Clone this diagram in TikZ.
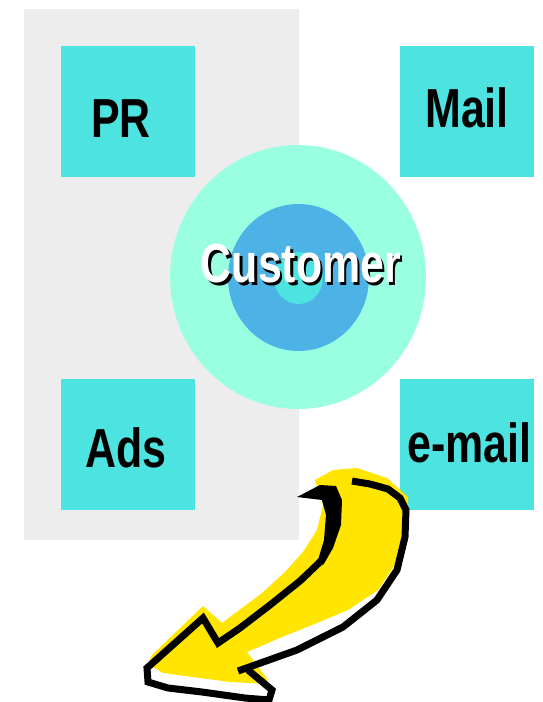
\documentclass[tikz,border=0pt]{standalone}
\usepackage{fontspec}
\setmainfont{Liberation Sans}
\usepackage{tikz}

\definecolor{panelgray}{HTML}{EDEDED}
\definecolor{boxcyan}{HTML}{4DE3E0}
\definecolor{ringaqua}{HTML}{99FFE0}
\definecolor{ringblue}{HTML}{4DB3E6}
\definecolor{arrowyellow}{HTML}{FFE500}

\newcommand{\squeeze}[1]{\scalebox{0.78}[1]{#1}}
% white word over a black drop shadow
\newcommand{\shadowed}[1]{\rlap{\hspace{3pt}\raisebox{-3pt}{\color{black}#1}}\color{white}#1}

\begin{document}
\begin{tikzpicture}[x=1pt,y=-1pt,
  box/.style={fill=boxcyan, minimum width=134pt, minimum height=131pt, inner sep=0pt},
  lbl/.style={anchor=base, inner sep=0pt, font=\fontsize{55}{60}\selectfont\bfseries},
  edge/.style={line width=7pt, line join=miter, line cap=butt}]
\useasboundingbox (0,0) rectangle (542,702);

% grey panel behind the left column
\fill [panelgray] (24,9) rectangle (299,540);

% the four channels
\node [box] (pr) at (128,111.5) {};
\node [box] (mail) at (467,111.5) {};
\node [box] (ads) at (128,444) {};
\node [box] (email) at (467,444) {};
\node [lbl] (prtxt) at (121,137) {\squeeze{PR}};
\node [lbl] (mailtxt) at (467,127) {\squeeze{Mail}};
\node [lbl] (adstxt) at (126,467) {\squeeze{Ads}};
\node [lbl] (emailtxt) at (469.5,462) {\squeeze{e-mail}};

% rings round the customer
\fill [ringaqua] (298,277) ellipse [x radius=128, y radius=132];
\fill [ringblue] (298.5,277.5) ellipse [x radius=70.5, y radius=73.5];
\fill [boxcyan] (298.5,278) ellipse [x radius=24.5, y radius=26];
\node [lbl] (customer) at (301,282) {\squeeze{\shadowed{Customer}}};

% yellow curved arrow
\fill [arrowyellow] (315,480) -- (333,470) -- (357,468) -- (387,478) -- (408,497)
  -- (408,512) -- (405,535) -- (396,563) -- (378,590) -- (348,610) -- (317,623)
  -- (282,637) -- (247,652) -- (268,680) -- (266,684) -- (230,682) -- (163,673)
  -- (148,664) -- (152,655) -- (203,606) -- (222,623) -- (262,593) -- (285,572)
  -- (303,552) -- (317,530) -- (323,505) -- (318,490) -- cycle;
% black outline
\fill (297,497) -- (320,485) -- (336,486) -- (342,500) -- (341,525) -- (333,548)
  -- (323,565) -- (318,560) -- (324,540) -- (326,515) -- (322,500) -- cycle;
\draw [edge] (330,545) -- (322,560) -- (300,581) -- (270,605) -- (240,628) -- (218,643)
  -- (203,618) -- (147,668) -- (148,682) -- (168,688) -- (202,692) -- (245,698)
  -- (269,700) -- (272,690) -- (248,670);
\draw [edge] (238,671) -- (297,650) -- (343,627) -- (377,600) -- (397,570)
  -- (405,537) -- (406,510) -- (400,498) -- (388,489) -- (370,484) -- (352,481);
\end{tikzpicture}
\end{document}
